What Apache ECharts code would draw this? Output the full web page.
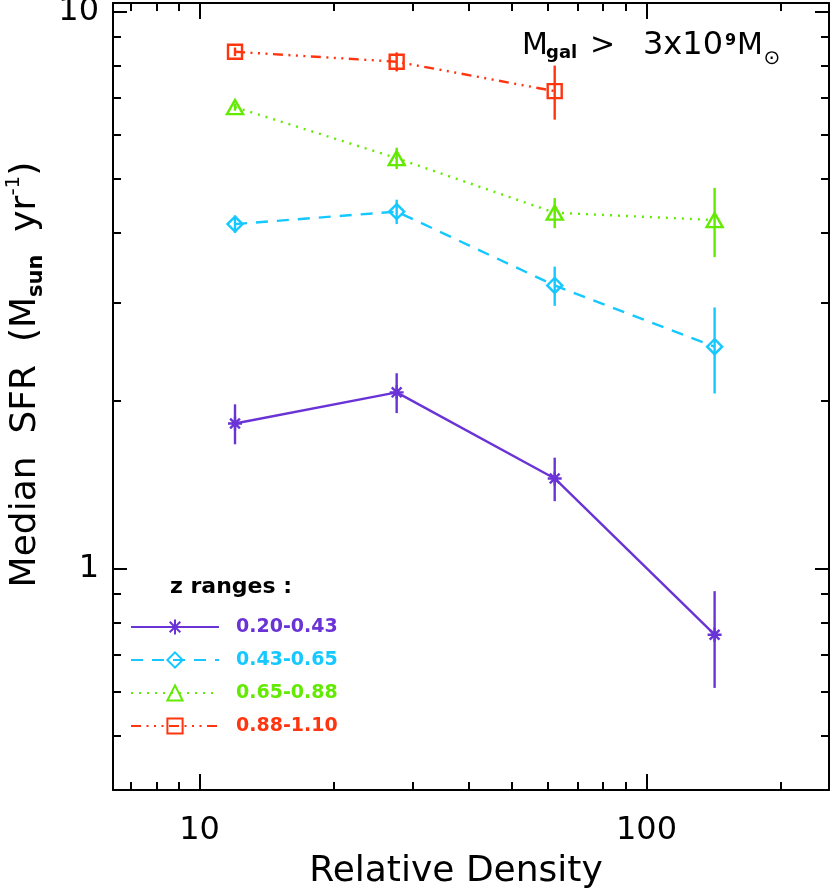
<!DOCTYPE html>
<html>
<head>
<meta charset="utf-8">
<script src="https://cdn.jsdelivr.net/npm/echarts@6/dist/echarts.min.js"></script>
<style>
html,body{margin:0;padding:0;background:#fff;}
#chart{width:831px;height:892px;}
</style>
</head>
<body>
<div id="chart"></div>
<script>
// ---- data ----
const densities = [12.0, 27.6, 62.3, 142];
const zRanges = ['0.20-0.43', '0.43-0.65', '0.65-0.88', '0.88-1.10'];
const sfr_020_043 = [1.82, 2.07, 1.45, 0.76];
const err_020_043 = [0.15, 0.17, 0.13, 0.15];
const sfr_043_065 = [4.15, 4.37, 3.22, 2.50];
const err_043_065 = [0.15, 0.22, 0.26, 0.44];
const sfr_065_088 = [6.73, 5.45, 4.35, 4.22];
const err_065_088 = [0.10, 0.24, 0.27, 0.60];
const sfr_088_110 = [8.46, 8.12, 7.19];
const err_088_110 = [0.15, 0.32, 0.80];
// tick labels / tick positions
const xMajorTicks = [10, 100];
const xMinorTicks = [7, 8, 9, 20, 30, 40, 50, 60, 70, 80, 90, 200];
const yMajorTicks = [1, 10];
const yMinorTicks = [0.5, 0.6, 0.7, 0.8, 0.9, 2, 3, 4, 5, 6, 7, 8, 9];
const xRange = [6.4, 256];
const yRange = [0.4, 10.35];

const FONT = "'DejaVu Sans', sans-serif";
const colors = ['#6a33d6', '#15c8ff', '#62ea00', '#ff3510'];
const sfrSets = [sfr_020_043, sfr_043_065, sfr_065_088, sfr_088_110];
const errSets = [err_020_043, err_043_065, err_065_088, err_088_110];
const symbols = [
  'path://M5,0L5,10M0,5L10,5M1.5,1.5L8.5,8.5M1.5,8.5L8.5,1.5',
  'diamond', 'triangle', 'rect'
];
const symbolSizes = [14, [15, 15], [16, 14], 14];
const dashTypes = ['solid', [12, 9], [2, 6], [10, 5.5, 2, 5.5, 2, 5.5, 2, 5.5]];

const L = Math.log10;
const lx = [L(xRange[0]), L(xRange[1])];
const ly = [L(yRange[0]), L(yRange[1])];
const powFmt = v => String(Math.round(Math.pow(10, v)));

function tickAxis(pos, ext, values, len, showLine, showLabel, extra) {
  const ax = {
    type: 'value', position: pos, min: ext[0], max: ext[1],
    splitLine: { show: false },
    axisLine: { show: showLine, onZero: false, lineStyle: { color: '#000', width: 2 } },
    axisTick: { show: true, inside: true, length: len, customValues: values,
                lineStyle: { color: '#000', width: 2 } },
    axisLabel: showLabel ? { show: true, customValues: values, formatter: powFmt,
                fontSize: 32, fontFamily: FONT, color: '#000', margin: showLabel } :
               { show: false }
  };
  return Object.assign(ax, extra || {});
}

const series = [];
sfrSets.forEach((vals, i) => {
  series.push({
    type: 'line', name: zRanges[i], xAxisIndex: 0, yAxisIndex: 0,
    data: vals.map((v, j) => [densities[j], v]),
    symbol: symbols[i], symbolSize: symbolSizes[i], showAllSymbol: true,
    lineStyle: { color: colors[i], width: 2.4, type: dashTypes[i] },
    itemStyle: { color: 'rgba(0,0,0,0)', borderColor: colors[i], borderWidth: 2.4 },
    z: 3, silent: true
  });
  series.push({
    type: 'custom', name: 'err' + i, xAxisIndex: 0, yAxisIndex: 0,
    data: vals.map((v, j) => [densities[j], v - errSets[i][j], v + errSets[i][j]]),
    encode: { x: 0, y: [1, 2] },
    renderItem: (params, api) => {
      const p1 = api.coord([api.value(0), api.value(1)]);
      const p2 = api.coord([api.value(0), api.value(2)]);
      return { type: 'line', shape: { x1: p1[0], y1: p1[1], x2: p2[0], y2: p2[1] },
               style: { stroke: colors[i], lineWidth: 2.4 } };
    },
    z: 2, silent: true
  });
});

const chart = echarts.init(document.getElementById('chart'), null, { renderer: 'canvas' });
chart.setOption({
  animation: false,
  backgroundColor: '#fff',
  grid: { left: 113, top: 3, width: 716, height: 787, containLabel: false, outerBoundsMode: 'none' },
  xAxis: [
    { type: 'log', min: xRange[0], max: xRange[1], show: false },
    tickAxis('bottom', lx, xMajorTicks.map(L), 16, true, 25, {
      name: 'Relative Density', nameLocation: 'middle', nameGap: 64,
      nameTextStyle: { fontSize: 36, fontFamily: FONT, color: '#000', padding: [0, 30, 0, 0] }
    }),
    tickAxis('bottom', lx, xMinorTicks.map(L), 8, false, 0),
    tickAxis('top', lx, xMajorTicks.map(L), 16, true, 0),
    tickAxis('top', lx, xMinorTicks.map(L), 8, false, 0)
  ],
  yAxis: [
    { type: 'log', min: yRange[0], max: yRange[1], show: false },
    tickAxis('left', ly, yMajorTicks.map(L), 14, true, 14, {
      name: '{a|Median  SFR  (M}{sub|sun}{a|  yr}{sup|-1}{a|)}',
      nameLocation: 'middle', nameGap: 54, nameRotate: 90,
      nameTextStyle: {
        fontSize: 36, fontFamily: FONT, color: '#000', padding: [0, 0, 0, 44],
        rich: {
          a: { fontSize: 36, fontFamily: FONT, color: '#000', lineHeight: 44 },
          sub: { fontSize: 21, fontFamily: FONT, color: '#000', fontWeight: 'bold', lineHeight: 26, verticalAlign: 'bottom' },
          sup: { fontSize: 20, fontFamily: FONT, color: '#000', lineHeight: 22, verticalAlign: 'top' }
        }
      }
    }),
    tickAxis('left', ly, yMinorTicks.map(L), 8, false, 0),
    tickAxis('right', ly, yMajorTicks.map(L), 14, true, 0),
    tickAxis('right', ly, yMinorTicks.map(L), 8, false, 0)
  ],
  legend: {
    left: 130, top: 617, orient: 'vertical', padding: 0,
    itemWidth: 88, itemHeight: 19, itemGap: 13, selectedMode: false,
    textStyle: { fontSize: 19, fontWeight: 'bold', fontFamily: FONT, padding: [0, 0, 0, 12], lineHeight: 20 },
    data: zRanges.map((n, i) => ({ name: n, textStyle: { color: colors[i] } }))
  },
  graphic: [
    { type: 'text', x: 170, y: 587, style: { text: 'z ranges :', fontSize: 22, fontWeight: 'bold', fontFamily: FONT, fill: '#000', align: 'left', verticalAlign: 'middle' } },
    { type: 'text', x: 522, y: 46, style: { text: 'M', fontSize: 30, fontFamily: FONT, fill: '#000', align: 'left', verticalAlign: 'middle' } },
    { type: 'text', x: 546, y: 53, style: { text: 'gal', fontSize: 18, fontWeight: 'bold', fontFamily: FONT, fill: '#000', align: 'left', verticalAlign: 'middle' } },
    { type: 'text', x: 590, y: 46, style: { text: '>', fontSize: 30, fontFamily: FONT, fill: '#000', align: 'left', verticalAlign: 'middle' } },
    { type: 'text', x: 643, y: 46, style: { text: '3x10', fontSize: 32, fontFamily: FONT, fill: '#000', align: 'left', verticalAlign: 'middle' } },
    { type: 'text', x: 725, y: 41, style: { text: '9', fontSize: 16, fontWeight: 'bold', fontFamily: FONT, fill: '#000', align: 'left', verticalAlign: 'middle' } },
    { type: 'text', x: 737, y: 46, style: { text: 'M', fontSize: 30, fontFamily: FONT, fill: '#000', align: 'left', verticalAlign: 'middle' } },
    { type: 'text', x: 772, y: 59, style: { text: '\u2299', fontSize: 20, fontFamily: FONT, fill: '#000', align: 'center', verticalAlign: 'middle' } }
  ],
  series: series
});
</script>
</body>
</html>
